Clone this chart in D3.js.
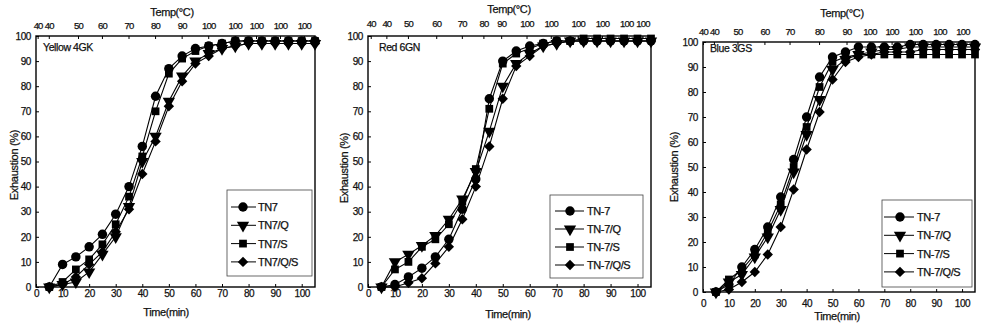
<!DOCTYPE html>
<html>
<head>
<meta charset="utf-8">
<script src="https://cdn.jsdelivr.net/npm/d3@7"></script>
<style>
  body { margin: 0; background: #fff; }
  svg text { font-family: "Liberation Sans", Arial, sans-serif; fill: #111; stroke: #111; stroke-width: 0.25px; }
</style>
</head>
<body>
<div id="vis"></div>
<script>
// Datos ----------------------------------------------------------------------
const TIEMPOS = [5, 10, 15, 20, 25, 30, 35, 40, 45, 50, 55, 60, 65, 70, 75, 80, 85, 90, 95, 100, 105];

const YELLOW_TN7 = [0, 9, 12, 16, 21, 29, 40, 56, 76, 87, 92, 95, 96, 97, 98, 98, 98, 98, 98, 98, 98];
const YELLOW_Q   = [0, 1, 2, 6, 13, 20, 32, 50, 60, 74, 84, 90, 93, 95, 96, 97, 97, 97, 97, 97, 97];
const YELLOW_S   = [0, 2, 7, 11, 17, 25, 36, 52, 70, 85, 91, 94, 96, 97, 98, 98, 98, 98, 98, 98, 98];
const YELLOW_QS  = [0, 1, 4, 9, 14, 22, 31, 45, 58, 72, 82, 89, 92, 95, 96, 97, 97, 97, 97, 97, 97];

const RED_TN7 = [0, 1, 4, 7.5, 12, 19, 31, 43, 75, 90, 94, 96, 97, 98, 98, 98, 98, 98, 98, 98, 98];
const RED_Q   = [0, 10, 13, 16.5, 20.5, 27, 35, 46, 62, 80, 89, 93, 96, 97, 98, 98, 98, 98, 98, 98, 98];
const RED_S   = [0, 7, 10, 16, 19, 25, 34, 47, 71, 89, 93, 95, 97, 98, 98, 99, 99, 99, 99, 99, 99];
const RED_QS  = [0, 0, 1.7, 3.5, 9.4, 16, 27, 40, 56, 75, 88, 92, 96, 97, 98, 98, 98, 98, 98, 98, 98];

const BLUE_TN7 = [0, 3, 10, 17, 26, 38, 53, 70, 86, 94, 96, 98, 98, 98, 98, 99, 99, 99, 99, 99, 99];
const BLUE_Q   = [0, 4, 7, 14, 22, 33, 48, 63, 77, 89, 93, 95, 96, 97, 97, 98, 98, 98, 98, 98, 98];
const BLUE_S   = [0, 5, 9, 15, 24, 35, 50, 66, 82, 92, 94, 95, 95, 95, 95, 95, 95, 95, 95, 95, 95];
const BLUE_QS  = [0, 1, 4, 8, 15, 26, 41, 57, 72, 85, 92, 94, 95, 96, 96, 96, 97, 97, 97, 97, 97];

const NOMBRES_1 = ["TN7", "TN7/Q", "TN7/S", "TN7/Q/S"];
const NOMBRES_2 = ["TN-7", "TN-7/Q", "TN-7/S", "TN-7/Q/S"];

// eje superior de temperatura (posicion en minutos, etiqueta)
const TEMP_T_1 = [0.8, 5, 16, 25, 35, 45, 55, 65, 75, 83, 92, 101];
const TEMP_L_1 = ["40", "40", "50", "60", "70", "80", "90", "100", "100", "100", "100", "100"];
const TEMP_T_2 = [1.2, 7, 15, 25.5, 35, 43, 49.6, 59, 68, 78, 87, 96, 102];
const TEMP_L_2 = ["40", "40", "50", "60", "70", "80", "90", "100", "100", "100", "100", "100", "100"];
const TEMP_T_3 = [0.2, 4.4, 13.5, 23.9, 33.6, 45, 55.6, 64.5, 73, 82, 91.5, 100.4];
const TEMP_L_3 = ["40", "40", "50", "60", "70", "80", "90", "100", "100", "100", "100", "100"];

const TICKS_X = [0, 10, 20, 30, 40, 50, 60, 70, 80, 90, 100];
const TICKS_Y = [0, 10, 20, 30, 40, 50, 60, 70, 80, 90, 100];

// ----------------------------------------------------------------------------
const WIDTH = 981;
const HEIGHT = 329;
const SVG = d3.select("#vis").append("svg")
    .attr("width", WIDTH)
    .attr("height", HEIGHT);

const simbolos = [
    { tipo: d3.symbolCircle, size: 70, rot: 0 },
    { tipo: d3.symbolTriangle, size: 66, rot: 180 },
    { tipo: d3.symbolSquare, size: 60, rot: 0 },
    { tipo: d3.symbolSquare, size: 54, rot: 45 }
];

const paneles = [
    {
        x0: 36, x1: 315, yTop: 36, yBot: 287,
        series: [YELLOW_TN7, YELLOW_Q, YELLOW_S, YELLOW_QS], nombres: NOMBRES_1,
        titulo: "Yellow 4GK", tituloPos: [43, 51],
        tempT: TEMP_T_1, tempL: TEMP_L_1, tempY: 29, tempTitulo: [172, 16],
        bottomY: 297, timeTitulo: [166, 316], yLabel: [18, 165],
        leyenda: { x: 227, y: 190, w: 85, h: 86, fila0: 207, paso: 18.3, mx: 243, lx0: 231, lx1: 256, tx: 258 }
    },
    {
        x0: 368, x1: 651, yTop: 36, yBot: 287,
        series: [RED_TN7, RED_Q, RED_S, RED_QS], nombres: NOMBRES_2,
        titulo: "Red 6GN", tituloPos: [379, 51],
        tempT: TEMP_T_2, tempL: TEMP_L_2, tempY: 27, tempTitulo: [509, 13],
        bottomY: 297, timeTitulo: [508, 318], yLabel: [348, 168],
        leyenda: { x: 550, y: 195, w: 93, h: 83, fila0: 211, paso: 18, mx: 570, lx0: 555, lx1: 584, tx: 587 }
    },
    {
        x0: 703, x1: 975, yTop: 42, yBot: 292,
        series: [BLUE_TN7, BLUE_Q, BLUE_S, BLUE_QS], nombres: NOMBRES_2,
        titulo: "Blue 3GS", tituloPos: [710, 52],
        tempT: TEMP_T_3, tempL: TEMP_L_3, tempY: 35, tempTitulo: [842, 17],
        bottomY: 307, timeTitulo: [837, 320], yLabel: [678, 167],
        leyenda: { x: 882, y: 200, w: 90, h: 87, fila0: 217, paso: 18.3, mx: 900, lx0: 884, lx1: 914, tx: 917 }
    }
];

paneles.forEach(p => dibujarPanel(p));

function marcador(g, i, x, y) {
    const s = simbolos[i];
    g.append("path")
        .attr("d", d3.symbol().type(s.tipo).size(s.size)())
        .attr("transform", `translate(${x},${y}) rotate(${s.rot})`)
        .attr("fill", "#000");
}

function dibujarPanel(p) {
    const escalaX = d3.scaleLinear().domain([0, 105]).range([p.x0, p.x1]);
    const escalaY = d3.scaleLinear().domain([0, 100]).range([p.yBot, p.yTop]);

    const g = SVG.append("g");

    // marco
    g.append("rect")
        .attr("x", p.x0)
        .attr("y", p.yTop)
        .attr("width", p.x1 - p.x0)
        .attr("height", p.yBot - p.yTop)
        .attr("fill", "none")
        .attr("stroke", "#000")
        .attr("stroke-width", 1.4);

    // eje inferior
    const ejeX = d3.axisBottom(escalaX).tickValues(TICKS_X).tickSizeInner(-3).tickSizeOuter(0).tickPadding(0);
    const gx = g.append("g").attr("transform", `translate(0,${p.yBot})`).call(ejeX);
    gx.select(".domain").remove();
    gx.selectAll("line").attr("stroke", "#000");
    gx.selectAll("text")
        .attr("y", p.bottomY - p.yBot)
        .attr("dy", 0)
        .attr("font-size", "10px")
        .attr("font-family", "Liberation Sans, Arial")
        .attr("letter-spacing", "-0.4px")
        .attr("fill", "#111");

    // eje izquierdo
    const ejeY = d3.axisLeft(escalaY).tickValues(TICKS_Y).tickSizeInner(-3).tickSizeOuter(0).tickPadding(5);
    const gy = g.append("g").attr("transform", `translate(${p.x0},0)`).call(ejeY);
    gy.select(".domain").remove();
    gy.selectAll("line").attr("stroke", "#000");
    gy.selectAll("text")
        .attr("font-size", "10px")
        .attr("font-family", "Liberation Sans, Arial")
        .attr("letter-spacing", "-0.4px")
        .attr("fill", "#111");

    // eje superior de temperatura
    const gt = g.append("g");
    gt.selectAll("line")
        .data(p.tempT)
        .enter()
        .append("line")
        .attr("x1", d => escalaX(d))
        .attr("x2", d => escalaX(d))
        .attr("y1", p.yTop)
        .attr("y2", p.yTop + 3)
        .attr("stroke", "#000");
    gt.selectAll("text")
        .data(p.tempT)
        .enter()
        .append("text")
        .attr("x", d => escalaX(d))
        .attr("y", p.tempY)
        .attr("text-anchor", "middle")
        .attr("font-size", "9.5px")
        .attr("letter-spacing", "-0.8px")
        .text((d, i) => p.tempL[i]);

    g.append("text")
        .attr("x", p.tempTitulo[0])
        .attr("y", p.tempTitulo[1])
        .attr("text-anchor", "middle")
        .attr("font-size", "11px")
        .attr("letter-spacing", "-0.4px")
        .text("Temp(°C)");

    g.append("text")
        .attr("x", p.timeTitulo[0])
        .attr("y", p.timeTitulo[1])
        .attr("text-anchor", "middle")
        .attr("font-size", "11px")
        .attr("letter-spacing", "-0.4px")
        .text("Time(min)");

    g.append("text")
        .attr("transform", `translate(${p.yLabel[0]},${p.yLabel[1]}) rotate(-90)`)
        .attr("text-anchor", "middle")
        .attr("font-size", "11px")
        .attr("letter-spacing", "-0.3px")
        .text("Exhaustion (%)");

    g.append("text")
        .attr("x", p.tituloPos[0])
        .attr("y", p.tituloPos[1])
        .attr("font-size", "10.5px")
        .attr("letter-spacing", "-0.4px")
        .text(p.titulo);

    // lineas y marcadores
    const linea = d3.line()
        .x((d, i) => escalaX(TIEMPOS[i]))
        .y(d => escalaY(d));

    p.series.forEach((valores, s) => {
        g.append("path")
            .datum(valores)
            .attr("d", linea)
            .attr("fill", "none")
            .attr("stroke", "#000")
            .attr("stroke-width", 1.1);
    });
    p.series.forEach((valores, s) => {
        valores.forEach((v, i) => marcador(g, s, escalaX(TIEMPOS[i]), escalaY(v)));
    });

    // leyenda
    const L = p.leyenda;
    g.append("rect")
        .attr("x", L.x)
        .attr("y", L.y)
        .attr("width", L.w)
        .attr("height", L.h)
        .attr("fill", "#fff")
        .attr("stroke", "#444")
        .attr("stroke-width", 0.8);

    p.nombres.forEach((nombre, i) => {
        const yy = L.fila0 + i * L.paso;
        g.append("line")
            .attr("x1", L.lx0)
            .attr("x2", L.lx1)
            .attr("y1", yy)
            .attr("y2", yy)
            .attr("stroke", "#000");
        marcador(g, i, L.mx, yy);
        g.append("text")
            .attr("x", L.tx)
            .attr("y", yy + 4)
            .attr("font-size", "11px")
            .attr("letter-spacing", "-0.4px")
            .text(nombre);
    });
}
</script>
</body>
</html>
